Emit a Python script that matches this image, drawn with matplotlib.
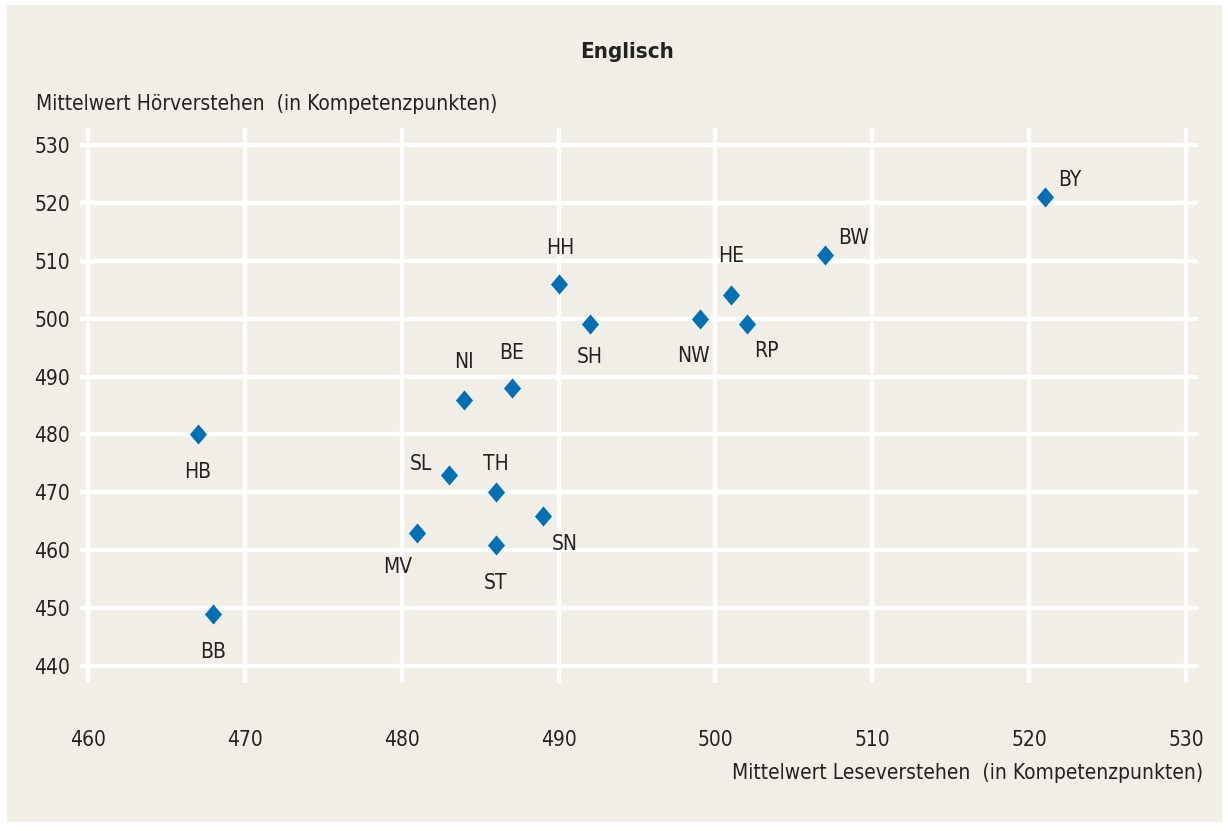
import matplotlib
matplotlib.use("Agg")
import matplotlib.pyplot as plt
from matplotlib.patches import Rectangle

plt.rcParams['font.family'] = ['DejaVu Sans']
plt.rcParams['font.stretch'] = 'condensed'

states = ["BY", "BW", "HE", "RP", "NW", "SH", "HH", "BE", "NI", "HB", "SL", "TH", "SN", "ST", "MV", "BB"]
lesen = [521, 507, 501, 502, 499, 492, 490, 487, 484, 467, 483, 486, 489, 486, 481, 468]
hoeren = [521, 511, 504, 499, 500, 499, 506, 488, 486, 480, 473, 470, 466, 461, 463, 449]
# label offsets in pixels (dx, dy) - style only
offsets = {"BY": (25, 17), "BW": (28, 17), "HE": (0, 39), "RP": (19, -27), "NW": (-6, -37),
           "SH": (0, -33), "HH": (2, 36), "BE": (0, 35), "NI": (0, 38), "HB": (0, -38),
           "SL": (-28, 11), "TH": (0, 28), "SN": (22, -28), "ST": (0, -38), "MV": (-20, -34),
           "BB": (0, -38)}
xticks = [460, 470, 480, 490, 500, 510, 520, 530]
yticks = [440, 450, 460, 470, 480, 490, 500, 510, 520, 530]

bg = "#F1EEE7"
blue = "#0070B4"
W, H = 1228, 831
fig = plt.figure(figsize=(W / 100, H / 100), dpi=100)
fig.patch.set_facecolor("white")
fig.add_artist(Rectangle((7 / W, 1 - 822 / H), (1222 - 7) / W, (822 - 5) / H,
                         transform=fig.transFigure, facecolor=bg, edgecolor="none", zorder=0))

ax = fig.add_axes([80 / W, 1 - 683 / H, (1198 - 80) / W, (683 - 128) / H])
ax.set_facecolor("none")
ax.set_xlim(459.5, 530.75)
ax.set_ylim(437.1, 532.9)
for s in ax.spines.values():
    s.set_visible(False)
ax.set_xticks(xticks)
ax.set_yticks(yticks)
ax.tick_params(length=0, labelsize=15, colors="#222222")
ax.tick_params(axis="x", pad=34)
ax.tick_params(axis="y", pad=7)
ax.grid(True, color="white", linewidth=3.2, zorder=1)
ax.set_axisbelow(True)

diamond = [(0, 1), (0.85, 0), (0, -1), (-0.85, 0), (0, 1)]
ax.scatter(lesen, hoeren, marker=diamond, s=14.5 ** 2, color=blue, zorder=3, linewidths=0)

for st, x, y in zip(states, lesen, hoeren):
    dx, dy = offsets[st]
    ax.annotate(st, (x, y), xytext=(dx * 0.72, dy * 0.72), textcoords="offset points",
                ha="center", va="center", fontsize=15, color="#222222")

fig.text(627 / W, 1 - 52 / H, "Englisch", ha="center", va="center", fontsize=16,
         fontweight="bold", color="#222222")
fig.text(36 / W, 1 - 104 / H, "Mittelwert Hörverstehen  (in Kompetenzpunkten)", ha="left",
         va="center", fontsize=15, color="#222222")
fig.text(1203 / W, 1 - 773 / H, "Mittelwert Leseverstehen  (in Kompetenzpunkten)", ha="right",
         va="center", fontsize=15, color="#222222")

fig.savefig("out.png", dpi=100)
